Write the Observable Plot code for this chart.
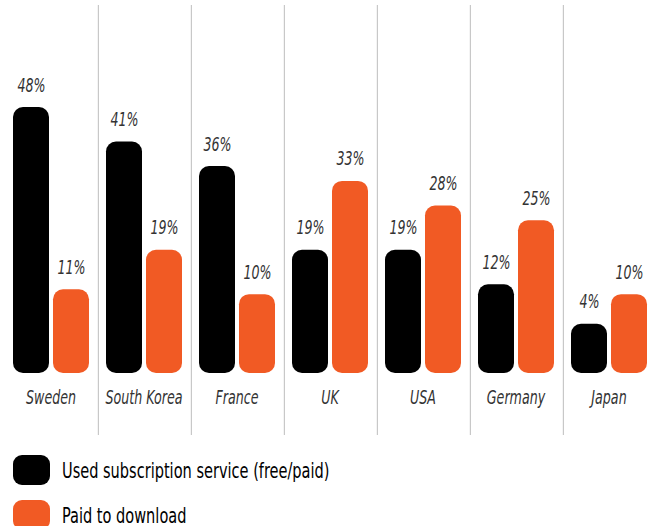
<!DOCTYPE html>
<html><head><meta charset="utf-8">
<script src="https://cdn.jsdelivr.net/npm/d3@7"></script>
<script src="https://cdn.jsdelivr.net/npm/@observablehq/plot@0.6"></script>
<style>
body{margin:0;background:#fff;}
#chart svg{display:block}
.legend{font-family:"DejaVu Sans Condensed","DejaVu Sans",sans-serif;font-size:22px;color:#000;margin-left:13px;margin-top:15px}
.row{display:flex;align-items:center;height:30px;margin-bottom:15px;white-space:nowrap}
.sw{width:37px;height:30px;border-radius:9px;margin-right:12px;flex:none}
.row span{display:inline-block;transform:scaleX(0.735);transform-origin:left center}
</style></head><body><div id="chart"></div><div class="legend" id="legend"></div>
<script>
const countries = ["Sweden","South Korea","France","UK","USA","Germany","Japan"];
const seriesNames = ["Used subscription service (free/paid)","Paid to download"];
const subscription = [48,41,36,19,19,12,4];
const paidDownload = [11,19,10,33,28,25,10];
const colors = ["#000000","#f15a24"];

const data = [];
countries.forEach((c,i)=>{
  data.push({country:c, series:seriesNames[0], value:subscription[i]});
  data.push({country:c, series:seriesNames[1], value:paidDownload[i]});
});

const FONT = '"DejaVu Sans Condensed","DejaVu Sans",sans-serif';
const W=655,H=440,ML=4,MR=0,MT=107,MB=67;
const PI=0.1, PO=0.19;
const BASE=-6; // visual baseline below zero (bars start at the scale floor)
const fw=(W-ML-MR)/countries.length;
const step=fw/(2-PI+2*PO), bw=step*(1-PI);
const sepDx=-(PO*step+bw/2);

const chart = Plot.plot({
  width:W,height:H,marginLeft:ML,marginRight:MR,marginTop:MT,marginBottom:MB,
  style:{fontFamily:FONT, background:"white"},
  fx:{domain:countries,padding:0,axis:null},
  x:{domain:seriesNames,paddingInner:PI,paddingOuter:PO,axis:null},
  y:{domain:[BASE,48],axis:null},
  color:{domain:seriesNames,range:colors},
  marks:[
    Plot.ruleX(countries.slice(1),{fx:d=>d,x:()=>seriesNames[0],dx:sepDx,stroke:"#c8c8c8",strokeWidth:1.2,insetTop:-102,insetBottom:-62}),
    Plot.barY(data,{fx:"country",x:"series",y1:()=>BASE,y2:"value",fill:"series",rx:10,inset:0}),
    Plot.text(data,{fx:"country",x:"series",y:"value",text:d=>d.value+"%",dy:-22,fontStyle:"italic",fontSize:19,fill:"#333"}),
    Plot.text(countries,{fx:d=>d,frameAnchor:"bottom",dy:30,text:d=>d,fontStyle:"italic",fontSize:19,fill:"#333"})
  ]
});
document.getElementById("chart").appendChild(chart);
chart.querySelectorAll("text").forEach(t=>{
  const L=t.getComputedTextLength();
  if(L>0){t.setAttribute("textLength",(L*0.74).toFixed(1));t.setAttribute("lengthAdjust","spacingAndGlyphs");}
});

const legend = document.getElementById("legend");
seriesNames.forEach((s,i)=>{
  const row=document.createElement("div");row.className="row";
  const sw=document.createElement("div");sw.className="sw";sw.style.background=colors[i];
  const t=document.createElement("span");t.textContent=s;
  row.appendChild(sw);row.appendChild(t);legend.appendChild(row);
});
</script></body></html>
